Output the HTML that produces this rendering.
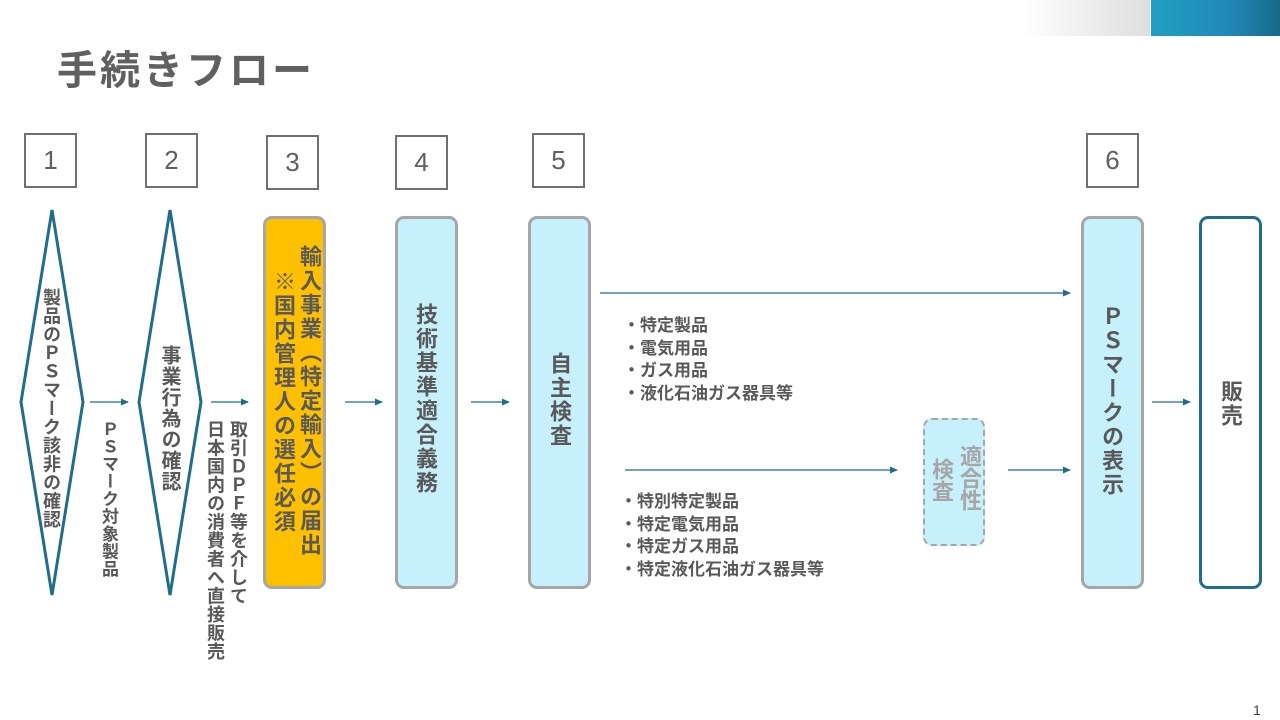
<!DOCTYPE html>
<html><head><meta charset="utf-8"><style>
body{margin:0;width:1280px;height:720px;position:relative;overflow:hidden;background:#fff;font-family:"Liberation Sans","Noto Sans CJK JP",sans-serif;color:#595959}
.a{position:absolute}
.v{position:absolute;writing-mode:vertical-rl;text-orientation:upright;font-weight:bold;color:#595959;white-space:nowrap;line-height:1}
.num{position:absolute;width:49px;height:51px;border:2px solid #6f6f6f;font-size:26px;text-align:center;line-height:51px;color:#606060}
.box{position:absolute;top:216px;width:57px;height:367px;border:3px solid #a6a6a6;border-radius:9px;background:#c5f0fc}
.l{position:absolute;font-size:17px;font-weight:bold;line-height:22.5px;color:#595959;white-space:nowrap}
</style></head><body>
<div class="a" style="left:1022px;top:0;width:128px;height:36px;background:linear-gradient(90deg,#fff,#dedede)"></div>
<div class="a" style="left:1151px;top:0;width:129px;height:36px;background:linear-gradient(90deg,#20a0c0,#2288b8 60%,#166a8a)"></div>
<div class="a" style="left:57px;top:38px;font-size:40px;font-weight:bold;color:#606060;letter-spacing:3px">手続きフロー</div>

<div class="num" style="left:24px;top:133px">1</div>
<div class="num" style="left:145px;top:133px">2</div>
<div class="num" style="left:266px;top:135px">3</div>
<div class="num" style="left:395px;top:135px">4</div>
<div class="num" style="left:532px;top:133px">5</div>
<div class="num" style="left:1086px;top:133px">6</div>

<svg class="a" style="left:0;top:0" width="1280" height="720">
<defs><marker id="m" markerWidth="8" markerHeight="8" refX="7" refY="4" orient="auto" markerUnits="userSpaceOnUse"><path d="M0,0.5 L8,4 L0,7.5z" fill="#1f6e8c"/></marker></defs>
<g fill="none" stroke="#1f6e8c" stroke-width="3">
<polygon points="52,210 83,402 52,595 21,402"/>
<polygon points="170,210 201,402 170,595 139,402"/>
</g>
<g stroke="#1f6e8c" stroke-width="1.3" marker-end="url(#m)">
<line x1="90" y1="402" x2="128" y2="402"/>
<line x1="211" y1="402" x2="248" y2="402"/>
<line x1="345" y1="402" x2="382" y2="402"/>
<line x1="471" y1="402" x2="509" y2="402"/>
<line x1="600" y1="293" x2="1070" y2="293"/>
<line x1="625" y1="470" x2="897" y2="470"/>
<line x1="1008" y1="470" x2="1070" y2="470"/>
<line x1="1152" y1="402" x2="1190" y2="402"/>
</g>
</svg>

<div class="v" style="left:42px;top:288px;font-size:18px;letter-spacing:0.5px">製品のＰＳマーク該非の確認</div>
<div class="v" style="left:100px;top:420px;font-size:17px;letter-spacing:0.5px">ＰＳマーク対象製品</div>
<div class="v" style="left:159px;top:345px;font-size:20px;letter-spacing:1px">事業行為の確認</div>
<div class="v" style="left:229px;top:420px;font-size:18px;letter-spacing:0.5px">取引ＤＰＦ等を介して</div>
<div class="v" style="left:206px;top:420px;font-size:18px;letter-spacing:0.5px">日本国内の消費者へ直接販売</div>

<div class="box" style="left:263px;background:#ffc000"></div>
<div class="v" style="left:298px;top:245px;font-size:22px;letter-spacing:2px">輸入事業（特定輸入）の届出</div>
<div class="v" style="left:272px;top:270px;font-size:22px;letter-spacing:2px">※国内管理人の選任必須</div>

<div class="box" style="left:395px"></div>
<div class="v" style="left:414px;top:303px;font-size:22px;letter-spacing:2px">技術基準適合義務</div>
<div class="box" style="left:528px"></div>
<div class="v" style="left:548px;top:352px;font-size:22px;letter-spacing:2px">自主検査</div>

<div class="l" style="left:623px;top:315px">・特定製品<br>・電気用品<br>・ガス用品<br>・液化石油ガス器具等</div>
<div class="l" style="left:620px;top:491px">・特別特定製品<br>・特定電気用品<br>・特定ガス用品<br>・特定液化石油ガス器具等</div>

<div class="a" style="left:923px;top:418px;width:58px;height:124px;border:2.5px dashed #a6a6a6;border-radius:9px;background:#c5f0fc"></div>
<div class="v" style="left:958px;top:445px;font-size:22px;color:#a6a6a6">適合性</div>
<div class="v" style="left:930px;top:458px;font-size:22px;color:#a6a6a6">検査</div>

<div class="box" style="left:1081px"></div>
<div class="v" style="left:1100px;top:305px;font-size:22px;letter-spacing:2px">ＰＳマークの表示</div>
<div class="box" style="left:1199px;background:#fff;border-color:#1f6e8c"></div>
<div class="v" style="left:1219px;top:380px;font-size:22px;letter-spacing:2px">販売</div>

<div class="a" style="left:1253px;top:702px;font-size:14px;color:#404040">1</div>
</body></html>
